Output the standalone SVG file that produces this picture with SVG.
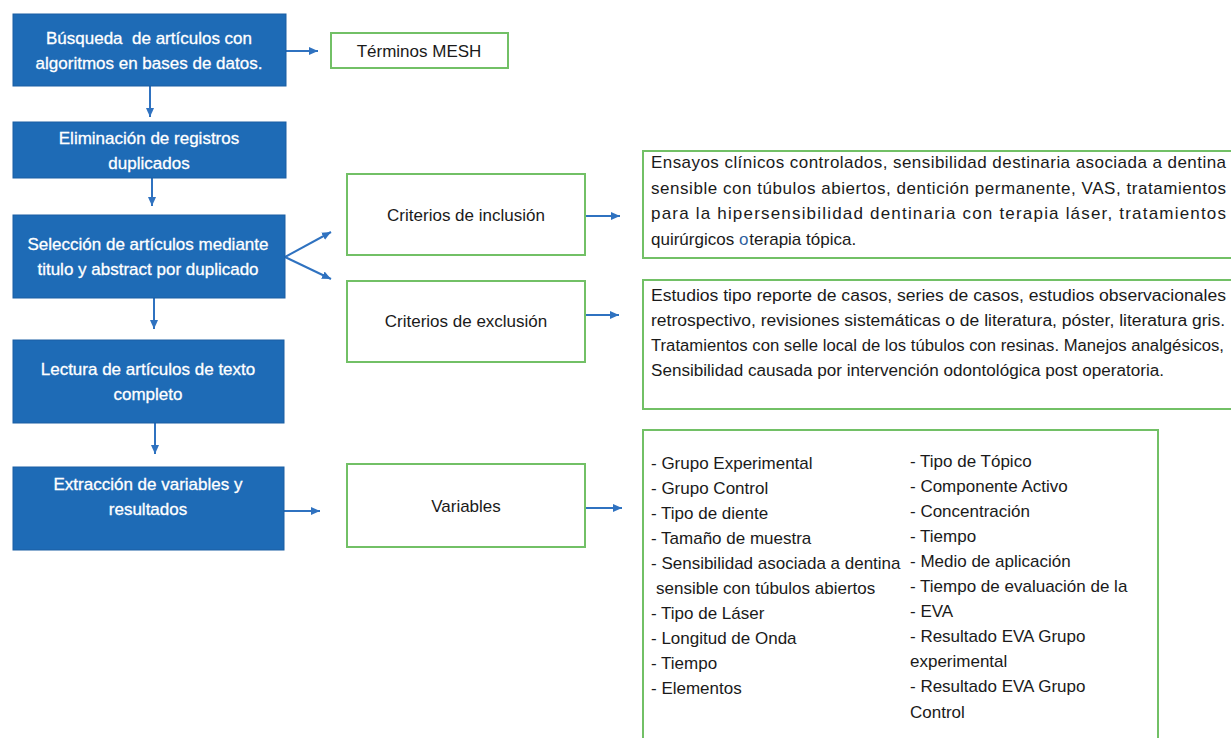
<svg xmlns="http://www.w3.org/2000/svg" width="1231" height="738" viewBox="0 0 1231 738">
<style>
.blue{fill:#1e6bb6;stroke:#1a5fa3;stroke-width:1}
.green{fill:#ffffff;stroke:#72c066;stroke-width:2}
.wt{font-family:"Liberation Sans",Arial,sans-serif;font-size:17px;fill:#ffffff;text-anchor:middle;stroke:#ffffff;stroke-width:0.3}
.bt{font-family:"Liberation Sans",Arial,sans-serif;font-size:17px;fill:#1a1a1a;text-anchor:middle}
.lt{font-family:"Liberation Sans",Arial,sans-serif;font-size:17px;fill:#1a1a1a}
.ex{font-size:16px}
.conn{stroke:#2f72c0;stroke-width:2;fill:none;marker-end:url(#ah)}
</style>
<defs>
<marker id="ah" markerUnits="userSpaceOnUse" markerWidth="10" markerHeight="10" viewBox="0 0 10 10" refX="9" refY="5" orient="auto">
<path d="M0,1 L9,5 L0,9 Z" fill="#2f72c0"/>
</marker>
</defs>
<rect width="1231" height="738" fill="#ffffff"/>

<g id="connectors">
<line class="conn" x1="286" y1="51" x2="318" y2="51"/>
<line class="conn" x1="150" y1="86" x2="150" y2="117"/>
<line class="conn" x1="152" y1="178" x2="152" y2="206"/>
<line class="conn" x1="285" y1="257" x2="331" y2="232"/>
<line class="conn" x1="285" y1="257" x2="331" y2="279"/>
<line class="conn" x1="154" y1="298" x2="154" y2="329"/>
<line class="conn" x1="155" y1="423" x2="155" y2="454"/>
<line class="conn" x1="284" y1="511" x2="320" y2="511"/>
<line class="conn" x1="586" y1="216" x2="620" y2="216"/>
<line class="conn" x1="586" y1="315" x2="619" y2="315"/>
<line class="conn" x1="586" y1="508" x2="622" y2="508"/>
</g>

<g id="n1">
<rect class="blue" x="13" y="14" width="273" height="72"/>
<text class="wt" x="149" y="44">Búsqueda&#160; de artículos con</text>
<text class="wt" x="149" y="69">algoritmos en bases de datos.</text>
</g>
<g id="n_mesh">
<rect class="green" x="331" y="33" width="177" height="35"/>
<text class="bt" x="419" y="57">Términos MESH</text>
</g>
<g id="n2">
<rect class="blue" x="13" y="122" width="273" height="56"/>
<text class="wt" x="149" y="144">Eliminación de registros</text>
<text class="wt" x="149" y="169">duplicados</text>
</g>
<g id="n3">
<rect class="blue" x="13" y="215" width="272" height="83"/>
<text class="wt" x="148" y="250">Selección de artículos mediante</text>
<text class="wt" x="148" y="275">titulo y abstract por duplicado</text>
</g>
<g id="n4">
<rect class="blue" x="13" y="340" width="271" height="83"/>
<text class="wt" x="148" y="375">Lectura de artículos de texto</text>
<text class="wt" x="148" y="400">completo</text>
</g>
<g id="n5">
<rect class="blue" x="13" y="467" width="271" height="83"/>
<text class="wt" x="148" y="490">Extracción de variables y</text>
<text class="wt" x="148" y="515">resultados</text>
</g>
<g id="n_incl">
<rect class="green" x="347" y="174" width="238" height="81"/>
<text class="bt" x="466" y="221">Criterios de inclusión</text>
</g>
<g id="n_excl">
<rect class="green" x="347" y="281" width="238" height="81"/>
<text class="bt" x="466" y="327">Criterios de exclusión</text>
</g>
<g id="n_var">
<rect class="green" x="347" y="464" width="238" height="83"/>
<text class="bt" x="466" y="512">Variables</text>
</g>

<g id="n_incl_text">
<rect class="green" x="643" y="151" width="600" height="107"/>
<text class="lt" x="651" y="168" textLength="575" lengthAdjust="spacing">Ensayos clínicos controlados, sensibilidad destinaria asociada a dentina</text>
<text class="lt" x="651" y="194" textLength="575" lengthAdjust="spacing">sensible con túbulos abiertos, dentición permanente, VAS, tratamientos</text>
<text class="lt" x="651" y="219" textLength="575" lengthAdjust="spacing">para la hipersensibilidad dentinaria con terapia láser, tratamientos</text>
<text class="lt" x="651" y="245">quirúrgicos <tspan fill="#2f5f9e">o</tspan><tspan dx="1">terapia tópica.</tspan></text>
</g>

<g id="n_excl_text">
<rect class="green" x="643" y="280" width="600" height="129"/>
<text class="lt ex" x="651" y="301" textLength="575" lengthAdjust="spacingAndGlyphs">Estudios tipo reporte de casos, series de casos, estudios observacionales</text>
<text class="lt ex" x="651" y="326" textLength="574" lengthAdjust="spacingAndGlyphs">retrospectivo, revisiones sistemáticas o de literatura, póster, literatura gris.</text>
<text class="lt ex" x="651" y="351" textLength="573" lengthAdjust="spacingAndGlyphs">Tratamientos con selle local de los túbulos con resinas. Manejos analgésicos,</text>
<text class="lt ex" x="651" y="376" textLength="513" lengthAdjust="spacingAndGlyphs">Sensibilidad causada por intervención odontológica post operatoria.</text>
</g>

<g id="n_var_text">
<rect class="green" x="643" y="430" width="515" height="320"/>
<text class="lt" x="651" y="469">- Grupo Experimental</text>
<text class="lt" x="651" y="494">- Grupo Control</text>
<text class="lt" x="651" y="519">- Tipo de diente</text>
<text class="lt" x="651" y="544">- Tamaño de muestra</text>
<text class="lt" x="651" y="569">- Sensibilidad asociada a dentina</text>
<text class="lt" x="656" y="594">sensible con túbulos abiertos</text>
<text class="lt" x="651" y="619">- Tipo de Láser</text>
<text class="lt" x="651" y="644">- Longitud de Onda</text>
<text class="lt" x="651" y="669">- Tiempo</text>
<text class="lt" x="651" y="694">- Elementos</text>
<text class="lt" x="910" y="467">- Tipo de Tópico</text>
<text class="lt" x="910" y="492">- Componente Activo</text>
<text class="lt" x="910" y="517">- Concentración</text>
<text class="lt" x="910" y="542">- Tiempo</text>
<text class="lt" x="910" y="567">- Medio de aplicación</text>
<text class="lt" x="910" y="592">- Tiempo de evaluación de la</text>
<text class="lt" x="910" y="617">- EVA</text>
<text class="lt" x="910" y="642">- Resultado EVA Grupo</text>
<text class="lt" x="910" y="667">experimental</text>
<text class="lt" x="910" y="692">- Resultado EVA Grupo</text>
<text class="lt" x="910" y="718">Control</text>
</g>
</svg>
